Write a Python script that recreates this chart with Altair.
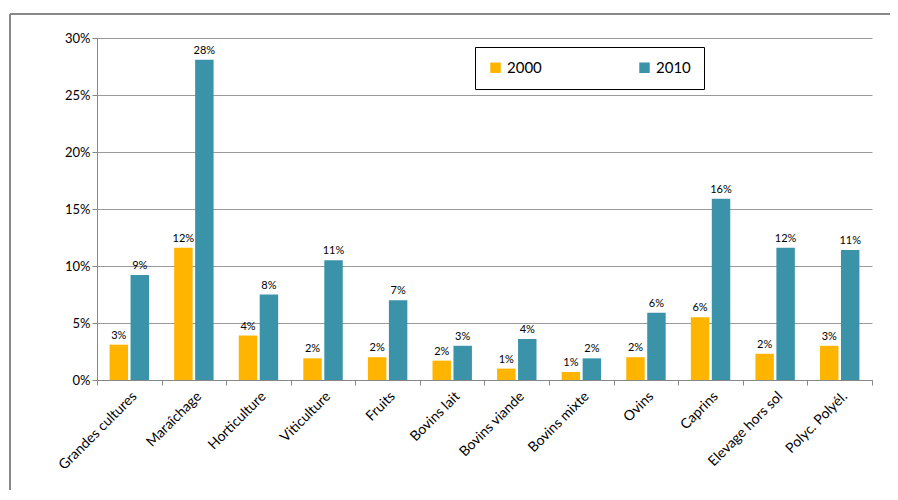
import altair as alt
import pandas as pd

categories = ["Grandes cultures", "Maraîchage", "Horticulture", "Viticulture", "Fruits",
              "Bovins lait", "Bovins viande", "Bovins mixte", "Ovins", "Caprins",
              "Elevage hors sol", "Polyc. Polyél."]
values_2000 = [3.1, 11.6, 3.9, 1.9, 2.0, 1.7, 1.0, 0.7, 2.0, 5.5, 2.3, 3.0]
values_2010 = [9.2, 28.1, 7.5, 10.5, 7.0, 3.0, 3.6, 1.9, 5.9, 15.9, 11.6, 11.4]
y_ticks = [0, 0.05, 0.1, 0.15, 0.2, 0.25, 0.3]

rows = []
for c, a, b in zip(categories, values_2000, values_2010):
    rows.append({"cat": c, "year": "2000", "v": a / 100})
    rows.append({"cat": c, "year": "2010", "v": b / 100})
data = pd.DataFrame(rows)

FONT = "Lato"

y_axis = alt.Axis(format=".0%", values=y_ticks, labelFontSize=13, labelColor="black",
                  labelFont=FONT, gridColor="#999", domainColor="#888", tickColor="#888")

base = alt.Chart(data).encode(
    x=alt.X("cat:N", sort=categories, title=None,
            scale=alt.Scale(paddingInner=0.0, paddingOuter=0.0),
            axis=alt.Axis(labelAngle=-45, labelFontSize=14, labelColor="black",
                          labelFont=FONT, domainColor="#888", tickColor="#888",
                          tickBand="extent", labelPadding=4)),
    xOffset=alt.XOffset("year:N", scale=alt.Scale(paddingOuter=0.6, paddingInner=0.12)),
    y=alt.Y("v:Q", title=None, scale=alt.Scale(domain=[0, 0.3]), axis=y_axis),
)

bars = base.mark_bar().encode(
    color=alt.Color("year:N", scale=alt.Scale(domain=["2000", "2010"], range=["#FFB500", "#3A93A8"]),
                    legend=alt.Legend(title=None, orient="none", legendX=378, legendY=9,
                                      direction="horizontal", strokeColor="black",
                                      padding=13, columnPadding=95, symbolType="square",
                                      symbolSize=110, labelFontSize=15, labelFont=FONT,
                                      fillColor="white", offset=0)),
)

labels = base.mark_text(dy=-9, fontSize=11, font=FONT, color="black").encode(
    text=alt.Text("v:Q", format=".0%"))

frame = alt.Chart(data).mark_rect(fill=None, stroke="#888", strokeWidth=1).encode(
    x=alt.value(-87), x2=alt.value(820), y=alt.value(-24), y2=alt.value(500))

chart = (frame + bars + labels).properties(
    width=775, height=342,
    autosize=alt.AutoSizeParams(type="none"),
    padding={"left": 89, "top": 30, "right": 18, "bottom": 110},
).configure_view(stroke=None)

chart.save("out.html", embed_options={"renderer": "svg", "actions": False})
